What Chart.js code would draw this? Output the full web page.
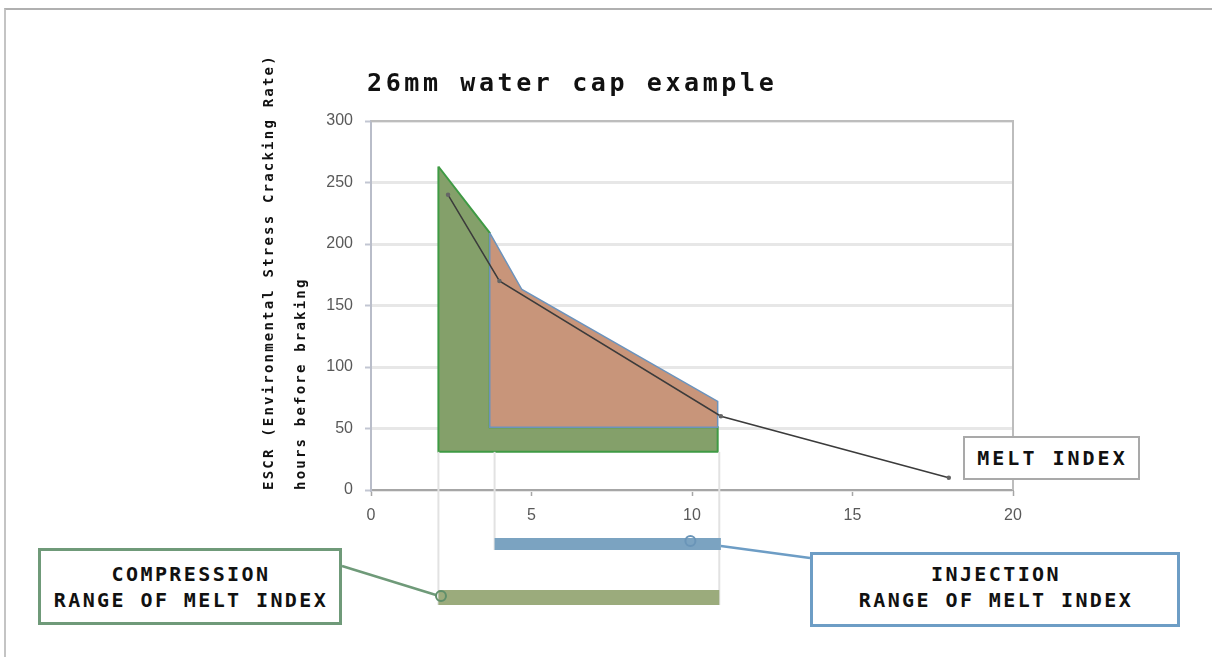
<!DOCTYPE html>
<html>
<head>
<meta charset="utf-8">
<script src="https://cdn.jsdelivr.net/npm/chart.js@4/dist/chart.umd.min.js"></script>
<style>
  html, body { margin: 0; padding: 0; background: #fff; }
  #wrap { position: relative; width: 1212px; height: 657px; overflow: hidden; }
  #frame {
    position: absolute; left: 4px; top: 8px; width: 1220px; height: 680px;
    border-top: 2px solid #b0b0b0; border-left: 2px solid #c4c4c4;
  }
  canvas { position: absolute; left: 0; top: 0; }
  .mono { font-family: "DejaVu Sans Mono", "Liberation Mono", monospace; font-weight: bold; color: #111; }
  #title { position: absolute; left: 367px; top: 68px; font-size: 25px; letter-spacing: 3.6px; white-space: nowrap; }
  .ytitle {
    position: absolute; top: 490px; font-size: 14px; letter-spacing: 2.2px; line-height: 16px;
    white-space: nowrap; transform-origin: 0 0; transform: rotate(-90deg);
  }
  .box {
    position: absolute; box-sizing: border-box; background: #fff;
    display: flex; align-items: center; justify-content: center; text-align: center;
    font-size: 20px; letter-spacing: 2.4px; line-height: 26px; padding-left: 2px;
  }
</style>
</head>
<body>
<div id="wrap">
  <div id="frame"></div>
  <canvas id="c" width="1212" height="657"></canvas>
  <div id="title" class="mono">26mm water cap example</div>
  <div class="ytitle mono" style="left:260px">ESCR (Environmental Stress Cracking Rate)</div>
  <div class="ytitle mono" style="left:292px">hours before braking</div>
  <div class="box mono" style="left:963px;top:436px;width:177px;height:44px;border:2px solid #a9a9a9;letter-spacing:3px">MELT INDEX</div>
  <div class="box mono" style="left:38px;top:548px;width:304px;height:77px;border:3px solid #6f9a79">COMPRESSION<br>RANGE OF MELT INDEX</div>
  <div class="box mono" style="left:810px;top:552px;width:370px;height:75px;border:3px solid #6d9dc5;padding-bottom:6px">INJECTION<br>RANGE OF MELT INDEX</div>
</div>
<script>
// melt index curve
const meltIndex = [2.4, 4.0, 10.9, 18.0];
const escrHours = [240, 170, 60, 10];

// compression window (closed outline)
const compressionX = [2.1, 3.7, 3.7, 10.8, 10.8, 2.1, 2.1];
const compressionY = [263, 209, 51, 51, 31, 31, 263];

// injection window (closed outline)
const injectionX = [3.7, 4.7, 10.8, 10.8, 3.7, 3.7];
const injectionY = [209, 163, 72, 51, 51, 209];

// melt index ranges shown under the axis
const compressionRange = [2.1, 10.85];
const injectionRange = [3.85, 10.9];
const compressionMarker = 2.18;
const injectionMarker = 9.95;

const xTicks = [0, 5, 10, 15, 20];
const yTicks = [0, 50, 100, 150, 200, 250, 300];

const toPoints = (xs, ys) => xs.map((x, i) => ({ x, y: ys[i] }));

/** top + right edge of the plot box */
const plotFrame = {
  id: "plotFrame",
  beforeDatasetsDraw(chart) {
    const { ctx, chartArea: a } = chart;
    ctx.save();
    ctx.strokeStyle = "#bdbdbd";
    ctx.lineWidth = 2;
    ctx.beginPath();
    ctx.moveTo(a.left, a.top);
    ctx.lineTo(a.right, a.top);
    ctx.lineTo(a.right, a.bottom);
    ctx.stroke();
    ctx.restore();
  },
};

/** range bars below the x axis, with callouts to the label boxes */
const rangeBars = {
  id: "rangeBars",
  afterDraw(chart) {
    const { ctx } = chart;
    const xs = chart.scales.x;
    const ys = chart.scales.y;
    const px = (v) => xs.getPixelForValue(v);
    const yLow = ys.getPixelForValue(compressionY[4]);

    ctx.save();
    // guide lines
    ctx.strokeStyle = "#e2e2e2";
    ctx.lineWidth = 2;
    [
      [compressionRange[0], 605],
      [injectionRange[0], 550],
      [compressionRange[1], 605],
    ].forEach(([v, bottom]) => {
      ctx.beginPath();
      ctx.moveTo(px(v), yLow);
      ctx.lineTo(px(v), bottom);
      ctx.stroke();
    });

    // bars
    ctx.fillStyle = "#7ba3c1";
    ctx.fillRect(px(injectionRange[0]), 538, px(injectionRange[1]) - px(injectionRange[0]), 12);
    ctx.fillStyle = "#9bab7c";
    ctx.fillRect(px(compressionRange[0]), 590, px(compressionRange[1]) - px(compressionRange[0]), 15);

    // injection callout
    ctx.strokeStyle = "#6d9dc5";
    ctx.lineWidth = 2.5;
    ctx.beginPath();
    ctx.moveTo(px(injectionRange[1]), 546);
    ctx.lineTo(810, 558);
    ctx.stroke();
    ctx.strokeStyle = "#6a95b8";
    ctx.lineWidth = 2;
    ctx.beginPath();
    ctx.arc(px(injectionMarker), 541, 5, 0, Math.PI * 2);
    ctx.stroke();

    // compression callout
    ctx.strokeStyle = "#6f9a79";
    ctx.lineWidth = 2.5;
    ctx.beginPath();
    ctx.moveTo(px(compressionMarker) - 5, 595);
    ctx.lineTo(342, 566);
    ctx.stroke();
    ctx.strokeStyle = "#5f8f6a";
    ctx.lineWidth = 2;
    ctx.beginPath();
    ctx.arc(px(compressionMarker), 596, 5, 0, Math.PI * 2);
    ctx.stroke();
    ctx.restore();
  },
};

new Chart(document.getElementById("c"), {
  type: "scatter",
  data: {
    datasets: [
      {
        label: "Melt index",
        data: toPoints(meltIndex, escrHours),
        showLine: true,
        borderColor: "#3b3b3b",
        borderWidth: 1.5,
        pointRadius: 1.5,
        pointBackgroundColor: "#666",
        pointBorderColor: "#666",
        tension: 0,
      },
      {
        label: "Injection",
        data: toPoints(injectionX, injectionY),
        showLine: true,
        fill: "shape",
        backgroundColor: "#c8957a",
        borderColor: "#6b93bd",
        borderWidth: 1.5,
        pointRadius: 0,
        tension: 0,
      },
      {
        label: "Compression",
        data: toPoints(compressionX, compressionY),
        showLine: true,
        fill: "shape",
        backgroundColor: "#84a06a",
        borderColor: "#3f9a44",
        borderWidth: 2,
        pointRadius: 0,
        tension: 0,
      },
    ],
  },
  options: {
    responsive: false,
    animation: false,
    layout: { padding: { left: 0, right: 199, top: 121, bottom: 137 } },
    plugins: {
      legend: { display: false },
      tooltip: { enabled: false },
      title: { display: false },
    },
    scales: {
      x: {
        type: "linear",
        min: 0,
        max: 20,
        afterBuildTicks: (s) => { s.ticks = xTicks.map((value) => ({ value })); },
        afterFit: (s) => { s.height = 30; },
        border: { color: "#a6a6a6", width: 2 },
        grid: { drawOnChartArea: false, tickLength: 6, tickColor: "#a6a6a6", tickWidth: 1.5 },
        ticks: { padding: 10, color: "#595959", font: { family: "Liberation Sans", size: 16 } },
      },
      y: {
        type: "linear",
        min: 0,
        max: 300,
        afterBuildTicks: (s) => { s.ticks = yTicks.map((value) => ({ value })); },
        afterFit: (s) => { s.width = 371; },
        border: { color: "#b9bdc9", width: 2 },
        grid: { color: "#e7e7e7", lineWidth: 3, tickLength: 6, tickColor: "#c2c6d2", tickWidth: 2 },
        ticks: { padding: 12, color: "#595959", font: { family: "Liberation Sans", size: 16 } },
      },
    },
  },
  plugins: [plotFrame, rangeBars],
});
</script>
</body>
</html>
